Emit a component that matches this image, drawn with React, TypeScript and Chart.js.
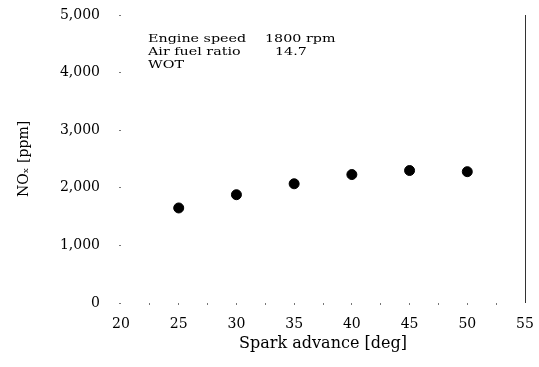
import React, { useEffect, useRef } from "react";
import { Chart, registerables } from "chart.js";

Chart.register(...registerables);

const sparkAdvance = [25, 30, 35, 40, 45, 50];
const noxPpm = [1650, 1880, 2070, 2230, 2300, 2280];
const xTicksMin = 20;
const xTicksMax = 55;
const yTicksMin = 0;
const yTicksMax = 5000;
const annotationLabels = ["Engine speed", "Air fuel ratio", "WOT"];
const annotationValues = ["1800 rpm", "14.7", ""];

const FONT = "'DejaVu Serif', 'Liberation Serif', serif";

const annotationPlugin = {
  id: "annotationText",
  afterDraw(chart: any) {
    const ctx = chart.ctx;
    const area = chart.chartArea;
    const valueOffsets = [144, 154, 0];
    ctx.save();
    ctx.fillStyle = "#000";
    ctx.font = `11px ${FONT}`;
    ctx.textBaseline = "middle";
    ctx.textAlign = "left";
    annotationLabels.forEach((label, i) => {
      const y = area.top + 24 + i * 13;
      ctx.save();
      ctx.translate(area.left + 27, y);
      ctx.scale(1.3, 1);
      ctx.fillText(label, 0, 0);
      ctx.restore();
      if (annotationValues[i]) {
        ctx.save();
        ctx.translate(area.left + valueOffsets[i], y);
        ctx.scale(1.3, 1);
        ctx.fillText(annotationValues[i], 0, 0);
        ctx.restore();
      }
    });
    ctx.restore();
  },
};

export default function App() {
  const ref = useRef<HTMLCanvasElement | null>(null);
  useEffect(() => {
    if (!ref.current) return;
    const chart = new Chart(ref.current, {
      type: "scatter",
      data: {
        datasets: [
          {
            data: sparkAdvance.map((x, i) => ({ x, y: noxPpm[i] })),
            backgroundColor: "#000",
            borderColor: "#000",
            pointRadius: 5,
            pointHoverRadius: 5,
          },
        ],
      },
      options: {
        animation: false,
        responsive: false,
        maintainAspectRatio: false,
        layout: { padding: { top: 15, right: 14, left: 0, bottom: 0 } },
        plugins: { legend: { display: false }, tooltip: { enabled: false } },
        scales: {
          x: {
            type: "linear",
            min: xTicksMin,
            max: xTicksMax,
            afterFit: (s: any) => {
              s.height = 64;
              s.paddingLeft = 0;
              s.paddingRight = 0;
            },
            border: { display: false },
            grid: {
              drawOnChartArea: true,
              color: (c: any) => (c.tick && c.tick.value === xTicksMax ? "#333" : "rgba(0,0,0,0)"),
              borderDash: [1, 1],
              lineWidth: 1,
              tickLength: 2,
              tickColor: (c: any) =>
                c.tick && (c.tick.value === xTicksMax || c.tick.value === xTicksMin) ? "rgba(0,0,0,0)" : "#777",
            },
            ticks: {
              stepSize: 2.5,
              padding: 11,
              color: "#000",
              font: { family: FONT, size: 14 },
              maxRotation: 0,
              autoSkip: false,
              callback: (v: any) => (Number(v) % 5 === 0 ? String(v) : ""),
            },
            title: {
              display: true,
              text: "Spark advance [deg]",
              color: "#000",
              font: { family: FONT, size: 16 },
              padding: { top: 0, bottom: 14 },
            },
          },
          y: {
            min: yTicksMin,
            max: yTicksMax,
            afterFit: (s: any) => {
              s.width = 121;
              s.paddingTop = 0;
              s.paddingBottom = 0;
            },
            border: { display: false },
            grid: {
              drawOnChartArea: false,
              tickLength: 2,
              tickColor: "#777",
            },
            ticks: {
              stepSize: 1000,
              padding: 19,
              color: "#000",
              font: { family: FONT, size: 14 },
            },
            title: {
              display: true,
              text: "NOₓ [ppm]",
              color: "#000",
              font: { family: FONT, size: 14 },
              padding: { top: 16, bottom: 0 },
            },
          },
        },
      },
      plugins: [annotationPlugin],
    });
    return () => chart.destroy();
  }, []);
  return (
    <div style={{ position: "fixed", left: 0, top: 0, width: 539, height: 367, background: "#fff" }}>
      <canvas ref={ref} width={539} height={367} style={{ width: 539, height: 367 }} />
    </div>
  );
}
